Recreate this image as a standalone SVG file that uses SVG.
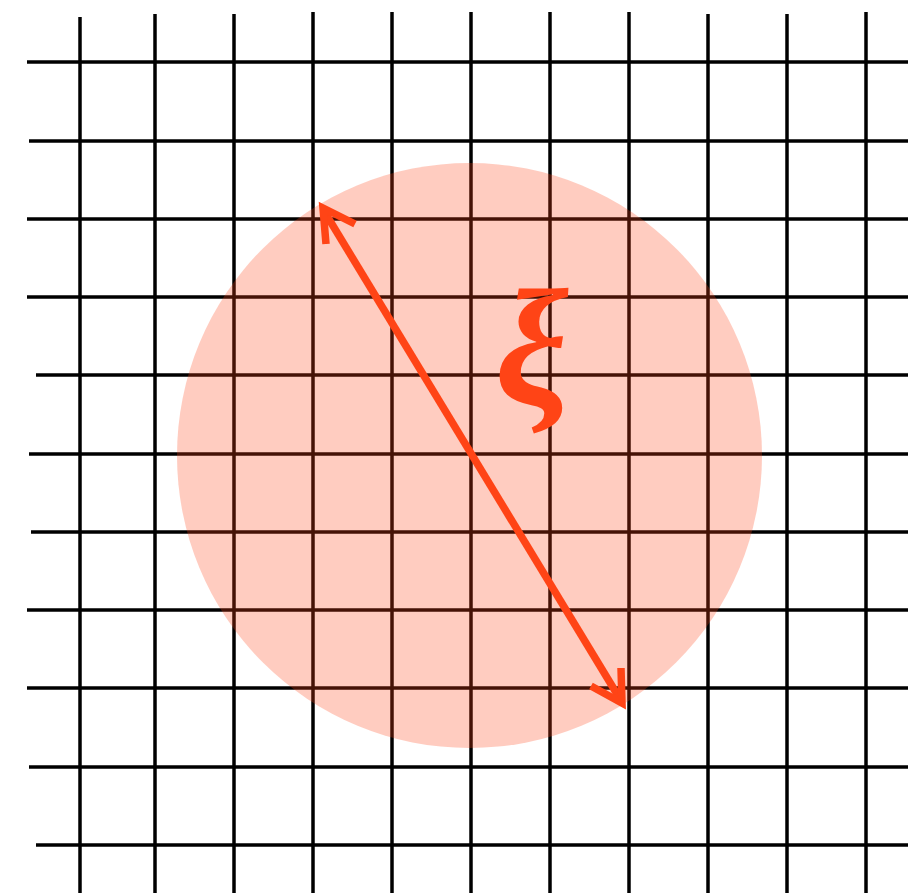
<svg xmlns="http://www.w3.org/2000/svg" width="908" height="893" viewBox="0 0 908 893">
<style>
.g{stroke:#000;stroke-width:3.5;fill:none}
.arr{stroke:#FF4416;stroke-width:7.5;fill:none;stroke-linejoin:miter;stroke-miterlimit:10}
.lbl{font-family:"Liberation Serif","DejaVu Serif",serif;font-style:italic;font-weight:bold;fill:#FF4416}
</style>
<rect width="908" height="893" fill="#fff"/>
<g id="grid" class="g">
<line x1="80" y1="17" x2="80" y2="893"/>
<line x1="155" y1="14" x2="155" y2="893"/>
<line x1="234" y1="14" x2="234" y2="893"/>
<line x1="313" y1="12" x2="313" y2="893"/>
<line x1="392" y1="12" x2="392" y2="893"/>
<line x1="471" y1="12" x2="471" y2="893"/>
<line x1="550" y1="12" x2="550" y2="893"/>
<line x1="629" y1="12" x2="629" y2="893"/>
<line x1="708" y1="14" x2="708" y2="893"/>
<line x1="787" y1="14" x2="787" y2="893"/>
<line x1="866" y1="12" x2="866" y2="893"/>
<line x1="27" y1="62" x2="908" y2="62"/>
<line x1="29" y1="141" x2="908" y2="141"/>
<line x1="27" y1="219" x2="908" y2="219"/>
<line x1="27" y1="297" x2="908" y2="297"/>
<line x1="36" y1="375" x2="908" y2="375"/>
<line x1="29" y1="454" x2="908" y2="454"/>
<line x1="31" y1="532" x2="908" y2="532"/>
<line x1="27" y1="610" x2="908" y2="610"/>
<line x1="27" y1="688" x2="908" y2="688"/>
<line x1="29" y1="767" x2="908" y2="767"/>
<line x1="36" y1="845" x2="908" y2="845"/>
</g>
<g id="region">
<circle cx="469.5" cy="455.5" r="292.5" fill="#FF4216" fill-opacity="0.27"/>
</g>
<g id="connectors">
<line class="arr" x1="324" y1="211" x2="620" y2="699"/>
<path class="arr" d="M326,244 L323,208 L355,224"/>
<path class="arr" d="M621,668 L622,703 L591,686"/>
</g>
<g id="label">
<text class="lbl" x="532" y="404" font-size="166" text-anchor="middle">ξ</text>
</g>
</svg>
